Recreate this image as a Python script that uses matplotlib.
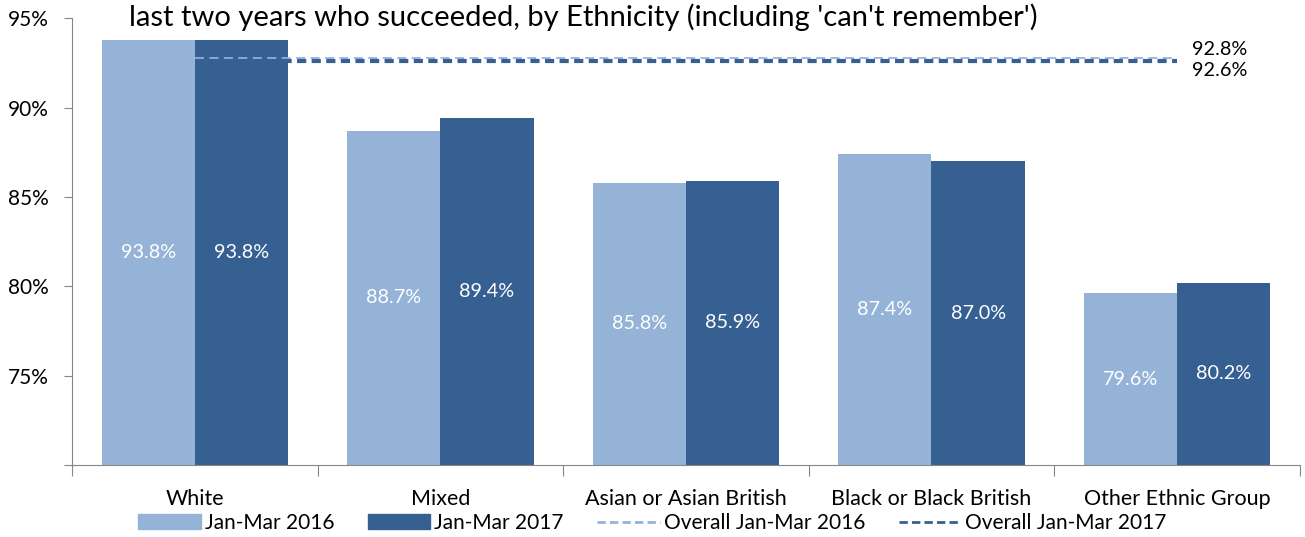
import numpy as np
import matplotlib.pyplot as plt
from matplotlib.patches import Patch
from matplotlib.lines import Line2D

plt.rcParams['font.family'] = ['Lato', 'DejaVu Sans']

# datos
categorias = ['White', 'Mixed', 'Asian or Asian British', 'Black or Black British', 'Other Ethnic Group']
valores_2016 = [93.8, 88.7, 85.8, 87.4, 79.6]
valores_2017 = [93.8, 89.4, 85.9, 87.0, 80.2]
overall_2016 = 92.8
overall_2017 = 92.6
titulo = "last two years who succeeded, by Ethnicity (including 'can't remember')"

claro = '#95B3D7'
oscuro = '#366092'
base = 70

fig = plt.figure(figsize=(13.05, 5.37), dpi=100)
ax = fig.add_axes([0.0552, 0.134, 0.9408, 0.832])

x = np.arange(len(categorias))
ancho = 0.38

ax.bar(x - ancho / 2, np.array(valores_2016) - base, ancho, bottom=base, color=claro)
ax.bar(x + ancho / 2, np.array(valores_2017) - base, ancho, bottom=base, color=oscuro)

# etiquetas dentro de las barras
for xi, v in zip(x - ancho / 2, valores_2016):
    ax.text(xi, (base + v) / 2, f'{v:.1f}%', ha='center', va='center', color='white', fontsize=14.3)
for xi, v in zip(x + ancho / 2, valores_2017):
    ax.text(xi, (base + v) / 2, f'{v:.1f}%', ha='center', va='center', color='white', fontsize=14.3)

# lineas de promedio
ax.plot([x[0], x[-1]], [overall_2016] * 2, color=claro, linestyle=(0, (5, 3)), linewidth=1.3)
ax.plot([x[0], x[-1]], [overall_2017] * 2, color=oscuro, linestyle=(0, (2.2, 1.3)), linewidth=3)
ax.text(x[-1] + 0.06, overall_2016 + 0.45, f'{overall_2016:.1f}%', fontsize=14.3, va='center')
ax.text(x[-1] + 0.06, overall_2017 - 0.55, f'{overall_2017:.1f}%', fontsize=14.3, va='center')

ax.set_xlim(-0.5, len(categorias) - 0.5)
ax.set_ylim(70, 95)
ax.set_yticks([70, 75, 80, 85, 90, 95])
ax.set_yticklabels(['', '75%', '80%', '85%', '90%', '95%'], fontsize=15)

ax.set_xticks(np.arange(len(categorias) + 1) - 0.5)
ax.set_xticklabels([])
ax.set_xticks(x, minor=True)
ax.set_xticklabels(categorias, minor=True, fontsize=15.5)
ax.tick_params(axis='x', which='major', length=8, color='#868686')
ax.tick_params(axis='x', which='minor', length=0, pad=17)
ax.tick_params(axis='y', length=6, color='#868686', pad=11)

for s in ['top', 'right']:
    ax.spines[s].set_visible(False)
ax.spines['left'].set_color('#868686')
ax.spines['bottom'].set_color('#868686')

fig.text(0.099, 0.952, titulo, fontsize=21, va='baseline')

handles = [
    Patch(color=claro),
    Patch(color=oscuro),
    Line2D([0], [0], color=claro, linestyle=(0, (3, 1.5)), linewidth=2),
    Line2D([0], [0], color=oscuro, linestyle=(0, (3, 1.5)), linewidth=2),
]
etiquetas = ['Jan-Mar 2016', 'Jan-Mar 2017', 'Overall Jan-Mar 2016', 'Overall Jan-Mar 2017']
fig.legend(handles, etiquetas, loc='center', bbox_to_anchor=(0.5, 0.026), ncol=4, frameon=False,
           fontsize=15, handlelength=3.0, handletextpad=0.2, columnspacing=1.6)

fig.savefig('out.png', dpi=100)
